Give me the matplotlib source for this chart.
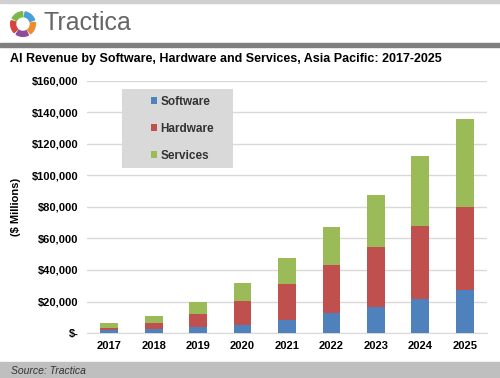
import matplotlib.pyplot as plt
from matplotlib.patches import Wedge, Rectangle
import numpy as np

plt.rcParams['font.family'] = ['Liberation Sans', 'DejaVu Sans']

years = ['2017', '2018', '2019', '2020', '2021', '2022', '2023', '2024', '2025']
software = [1900, 2500, 3600, 5100, 8250, 12500, 16300, 21400, 27300]
hardware = [1300, 3800, 8400, 15200, 22650, 30700, 38500, 46700, 52500]
services = [3100, 4500, 7900, 11200, 16500, 24100, 32800, 44500, 56100]
yticks = [0, 20000, 40000, 60000, 80000, 100000, 120000, 140000, 160000]
ytick_labels = ['$-', '$20,000', '$40,000', '$60,000', '$80,000',
                '$100,000', '$120,000', '$140,000', '$160,000']

c_soft = '#4f81bd'
c_hard = '#c0504d'
c_serv = '#9bbb59'

fig = plt.figure(figsize=(5, 3.78), dpi=100)

# header: thin top strip, dark rule
fig.patches.append(Rectangle((0, 0.992), 1, 0.008, transform=fig.transFigure,
                             color='#d0d0d0', zorder=0))
fig.patches.append(Rectangle((0, 0.876), 1, 0.010, transform=fig.transFigure,
                             color='#7f7f7f', zorder=0))
# source band
fig.patches.append(Rectangle((0, 0), 1, 0.042, transform=fig.transFigure,
                             color='#bfbfbf', zorder=0))

# logo ring
logo = fig.add_axes([0.014, 0.894, 0.064, 0.0847])
logo.set_xlim(-1.3, 1.3)
logo.set_ylim(-1.3, 1.3)
logo.set_aspect('equal')
logo.axis('off')
seg_colors = ['#4a9fd8', '#ef8a2e', '#8e4b9a', '#d6443e', '#7cb848']
for i, col in enumerate(seg_colors):
    start = 80 - i * 72
    logo.add_patch(Wedge((0, 0), 1.0, start - 60, start, width=0.4, color=col))
fig.text(0.088, 0.94, 'Tractica', fontsize=18, color='#666666',
         va='center', ha='left')

fig.text(0.02, 0.845, 'AI Revenue by Software, Hardware and Services, Asia Pacific: 2017-2025',
         fontsize=9, fontweight='bold', va='center', ha='left')
fig.text(0.022, 0.018, 'Source: Tractica', fontsize=7.5, style='italic',
         color='#333333', va='center', ha='left')

ax = fig.add_axes([0.174, 0.119, 0.8, 0.667])
x = np.arange(len(years))
w = 0.4
b1 = np.array(software)
b2 = b1 + np.array(hardware)
ax.bar(x, software, w, color=c_soft, label='Software', zorder=3)
ax.bar(x, hardware, w, bottom=b1, color=c_hard, label='Hardware', zorder=3)
ax.bar(x, services, w, bottom=b2, color=c_serv, label='Services', zorder=3)

ax.set_xlim(-0.5, 8.5)
ax.set_ylim(0, 160000)
ax.set_xticks(x)
ax.set_xticklabels(years, fontsize=8, fontweight='bold')
ax.set_yticks(yticks)
ax.set_yticklabels(ytick_labels, fontsize=8, fontweight='bold')
ax.grid(axis='y', color='#d9d9d9', linewidth=1, zorder=0)
for s in ['top', 'right', 'left']:
    ax.spines[s].set_visible(False)
ax.spines['bottom'].set_color('#d9d9d9')
ax.tick_params(axis='both', length=0, pad=6)
ax.set_ylabel('($ Millions)', fontsize=8, fontweight='bold', labelpad=8)

# legend box drawn separately so it can be wider than its contents
ax.add_patch(Rectangle((0.0875, 0.655), 0.2775, 0.313, transform=ax.transAxes,
                       facecolor='#d9d9d9', edgecolor='none', zorder=4))
leg = ax.legend(loc='center left', bbox_to_anchor=(0.16, 0.81), fontsize=8.5,
                frameon=False, handlelength=0.5, handleheight=0.5,
                labelspacing=1.25, borderpad=0, handletextpad=0.3,
                borderaxespad=0)
leg.set_zorder(5)
for t in leg.get_texts():
    t.set_fontweight('bold')
    t.set_color('#333333')

fig.savefig('out.png', dpi=100)
